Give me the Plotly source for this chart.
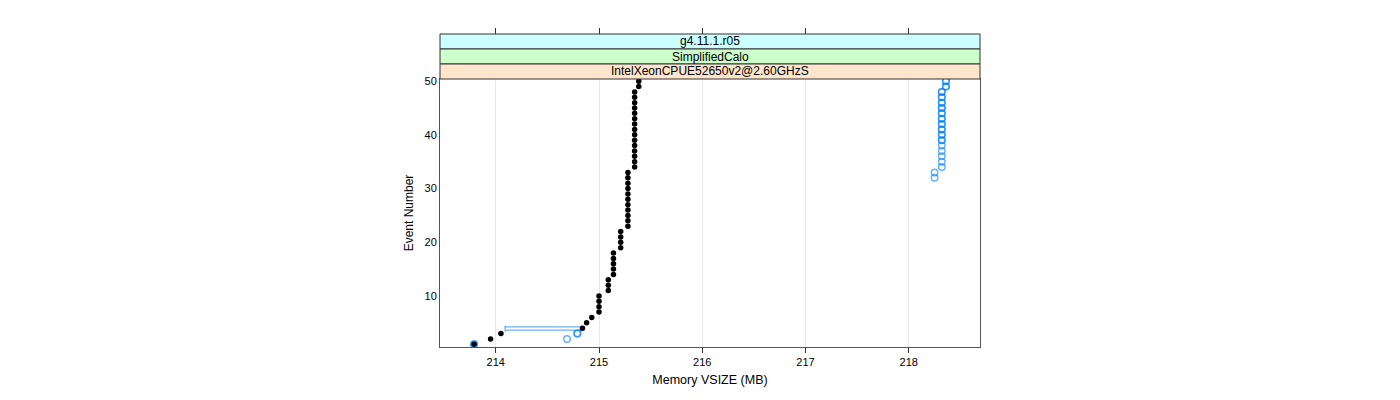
import plotly.graph_objects as go

# ------------------------------------------------------------
# Données
# ------------------------------------------------------------
# série noire : un point par événement (1..50)
evt_noir = list(range(1, 51))
vsize_noir = [213.79, 213.95, 214.05, 214.84, 214.88, 214.93,
              215.00, 215.00, 215.00, 215.00,
              215.09, 215.09, 215.09,
              215.14, 215.14, 215.14, 215.14, 215.14,
              215.21, 215.21, 215.21, 215.21,
              215.28, 215.28, 215.28, 215.28, 215.28, 215.28,
              215.28, 215.28, 215.28, 215.28, 215.28,
              215.345, 215.345, 215.345, 215.345, 215.345,
              215.345, 215.345, 215.345, 215.345, 215.345,
              215.345, 215.345, 215.345, 215.345, 215.345,
              215.385, 215.385]

# série bleue, premier passage
evt_bleu_a = [1, 2, 3, 32, 33, 34, 35, 36, 37, 38, 39, 40, 41, 42, 43,
              44, 45, 46, 47, 48, 49, 50]
vsize_bleu_a = [213.79, 214.69, 214.79, 218.25, 218.25,
                218.32, 218.32, 218.32, 218.32, 218.32, 218.32, 218.32,
                218.32, 218.32, 218.32, 218.32, 218.32, 218.32, 218.32,
                218.32, 218.36, 218.36]

# série bleue, second passage (points superposés = bleu plus foncé)
evt_bleu_b = [1, 3, 39, 40, 41, 42, 43, 44, 45, 46, 47, 48, 49, 50]
vsize_bleu_b = [213.79, 214.79, 218.32, 218.32, 218.32, 218.32, 218.32,
                218.32, 218.32, 218.32, 218.32, 218.32, 218.36, 218.36]

# événement 4 : segment bleu horizontal (début, fin)
evt_bleu_c = [3.93, 3.93]
vsize_bleu_c = [214.09, 214.83]

x_ticks = [214, 215, 216, 217, 218]
y_ticks = [10, 20, 30, 40, 50]
strips = ["g4.11.1.r05", "SimplifiedCalo", "IntelXeonCPUE52650v2@2.60GHzS"]
strip_colors = ["#ccffff", "#ccffcc", "#ffe5cc"]

# ------------------------------------------------------------
# Figure
# ------------------------------------------------------------
fig = go.Figure()

bleu = "rgba(0,128,255,0.6)"

# segment : trait bleu creux (contour bleu, intérieur blanc, bouts fermés)
fig.add_trace(go.Scatter(x=vsize_bleu_c, y=evt_bleu_c, mode="lines",
                         line=dict(color=bleu, width=4.5),
                         showlegend=False, hoverinfo="skip"))
fig.add_trace(go.Scatter(x=vsize_bleu_c, y=evt_bleu_c, mode="lines+markers",
                         line=dict(color="white", width=2),
                         marker=dict(symbol="line-ns", size=4.5,
                                     line=dict(color=bleu, width=1.2)),
                         showlegend=False, hoverinfo="skip"))

for xs, ys in [(vsize_bleu_a, evt_bleu_a), (vsize_bleu_b, evt_bleu_b)]:
    fig.add_trace(go.Scatter(
        x=xs, y=ys, mode="markers", showlegend=False,
        marker=dict(symbol="circle-open", size=6.5, color=bleu,
                    line=dict(width=1.5, color=bleu))
    ))

fig.add_trace(go.Scatter(
    x=vsize_noir, y=evt_noir, mode="markers", showlegend=False,
    marker=dict(symbol="circle", size=5.5, color="black")
))

# axe du haut (graduations au-dessus des bandeaux)
fig.add_trace(go.Scatter(x=[216], y=[25], xaxis="x2", mode="markers",
                         marker=dict(opacity=0), showlegend=False,
                         hoverinfo="skip"))

dom_top = 268 / 313
fig.update_layout(
    width=1400, height=400,
    margin=dict(l=432, r=428, t=26, b=61),
    plot_bgcolor="white", paper_bgcolor="white",
    font=dict(family="Liberation Sans, Arial, sans-serif", color="black"),
    xaxis=dict(
        range=[213.46, 218.69], tickvals=x_ticks,
        ticks="outside", ticklen=5, tickcolor="#333",
        showgrid=True, gridcolor="#e8e8e8", gridwidth=1,
        showline=True, linecolor="#555", linewidth=1, mirror=True,
        zeroline=False, tickfont=dict(size=11),
        title=dict(text="Memory VSIZE (MB)", font=dict(size=12.5), standoff=8),
    ),
    xaxis2=dict(
        range=[213.46, 218.69], tickvals=x_ticks, overlaying="x",
        side="top", anchor="free", position=1,
        ticks="outside", ticklen=6, tickcolor="#333",
        showticklabels=False, showgrid=False, zeroline=False,
    ),
    yaxis=dict(
        domain=[0, dom_top], range=[0.5, 50.4], tickvals=y_ticks,
        ticks="", showgrid=False, zeroline=False,
        showline=True, linecolor="#555", linewidth=1, mirror=True,
        tickfont=dict(size=11),
        title=dict(text="Event Number", font=dict(size=12), standoff=8),
    ),
)

# bandeaux de type lattice
h = (1 - dom_top) / 3
for i, (txt, col) in enumerate(zip(strips, strip_colors)):
    y0 = 1 - (i + 1) * h
    fig.add_shape(type="rect", xref="x domain", yref="paper",
                  x0=0, x1=1, y0=y0, y1=y0 + h,
                  fillcolor=col, line=dict(color="#333", width=1))
    fig.add_annotation(text=txt, xref="x domain", yref="paper",
                       x=0.5, y=y0 + h / 2, showarrow=False,
                       font=dict(size=12), yanchor="middle")

fig.write_html("out.html")
